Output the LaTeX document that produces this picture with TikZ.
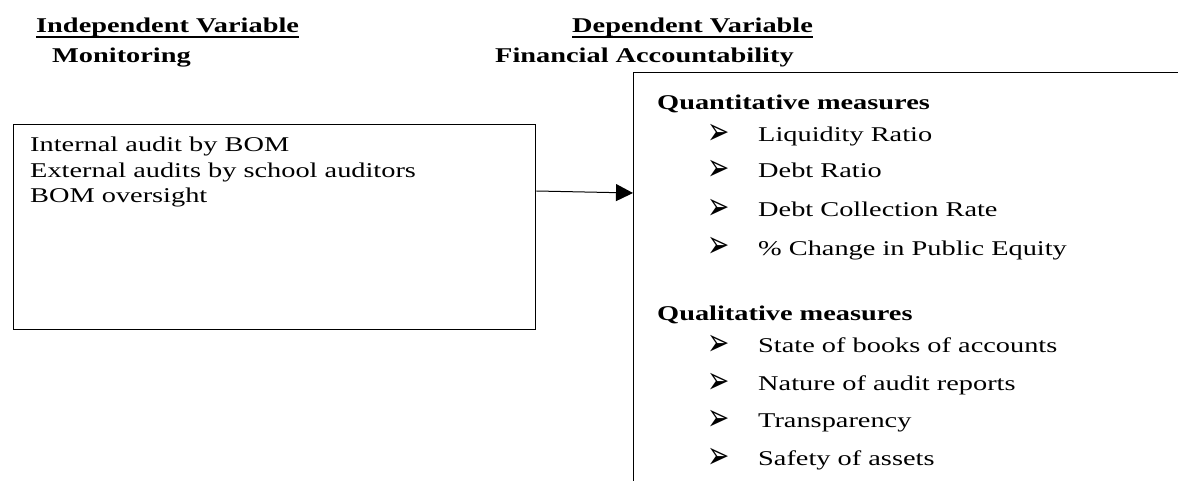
\documentclass[tikz,border=0pt]{standalone}
\usepackage{fontspec}
\setmainfont{Liberation Serif}[FakeStretch=1.35]
\newfontfamily\dingfont{DejaVu Sans}[FakeStretch=0.7]
\usetikzlibrary{arrows.meta}

\tikzset{
  txt/.style={anchor=base west,inner sep=0pt,font=\fontsize{21}{25}\selectfont},
  hdr/.style={txt,font=\fontsize{21}{25}\selectfont\bfseries},
  bul/.style={anchor=base west,inner sep=0pt,font=\dingfont\fontsize{38}{38}\selectfont},
  frame/.style={draw,line width=1.4pt,inner sep=0pt,anchor=north west},
}

\begin{document}
\begin{tikzpicture}[x=1pt,y=-1pt]
\clip (0,0) rectangle (1178,481);

% headings
\node[hdr] (indhdr) at (36,33) {Independent Variable};
\node[hdr] (monhdr) at (52,63) {Monitoring};
\node[hdr] (dephdr) at (572,33) {Dependent Variable};
\node[hdr] (finhdr) at (495,63) {Financial Accountability};
\draw[line width=1.2pt] ([yshift=-4pt]indhdr.base west) -- ([yshift=-4pt]indhdr.base east);
\draw[line width=1.2pt] ([yshift=-4pt]dephdr.base west) -- ([yshift=-4pt]dephdr.base east);

% boxes
\node[frame,minimum width=522pt,minimum height=205pt] (monbox) at (13,124) {};
\node[frame,minimum width=600pt,minimum height=450pt] (accbox) at (633,72) {};

\draw[-{Triangle[length=17pt,width=17pt]},line width=1pt] (monbox.east |- 0,191) -- (accbox.west |- 0,193);

% monitoring
\foreach \t [count=\i] in {Internal audit by BOM, External audits by school auditors, BOM oversight}
  \node[txt] (mon\i) at (30,{126.5+25.5*\i}) {\t};

% accountability
\node[hdr] (quanhdr) at (657,110) {Quantitative measures};
\foreach \t/\yy [count=\i] in {Liquidity Ratio/142, Debt Ratio/178, Debt Collection Rate/217, \% Change in Public Equity/255}{
  \node[bul] (qnb\i) at (707,\yy+3) {➢};
  \node[txt] (qn\i) at (758,\yy) {\t};
}
\node[hdr] (qualhdr) at (657,320) {Qualitative measures};
\foreach \t/\yy [count=\i] in {State of books of accounts/352, Nature of audit reports/390, Transparency/427, Safety of assets/465}{
  \node[bul] (qlb\i) at (707,\yy+3) {➢};
  \node[txt] (ql\i) at (758,\yy) {\t};
}
\end{tikzpicture}
\end{document}
